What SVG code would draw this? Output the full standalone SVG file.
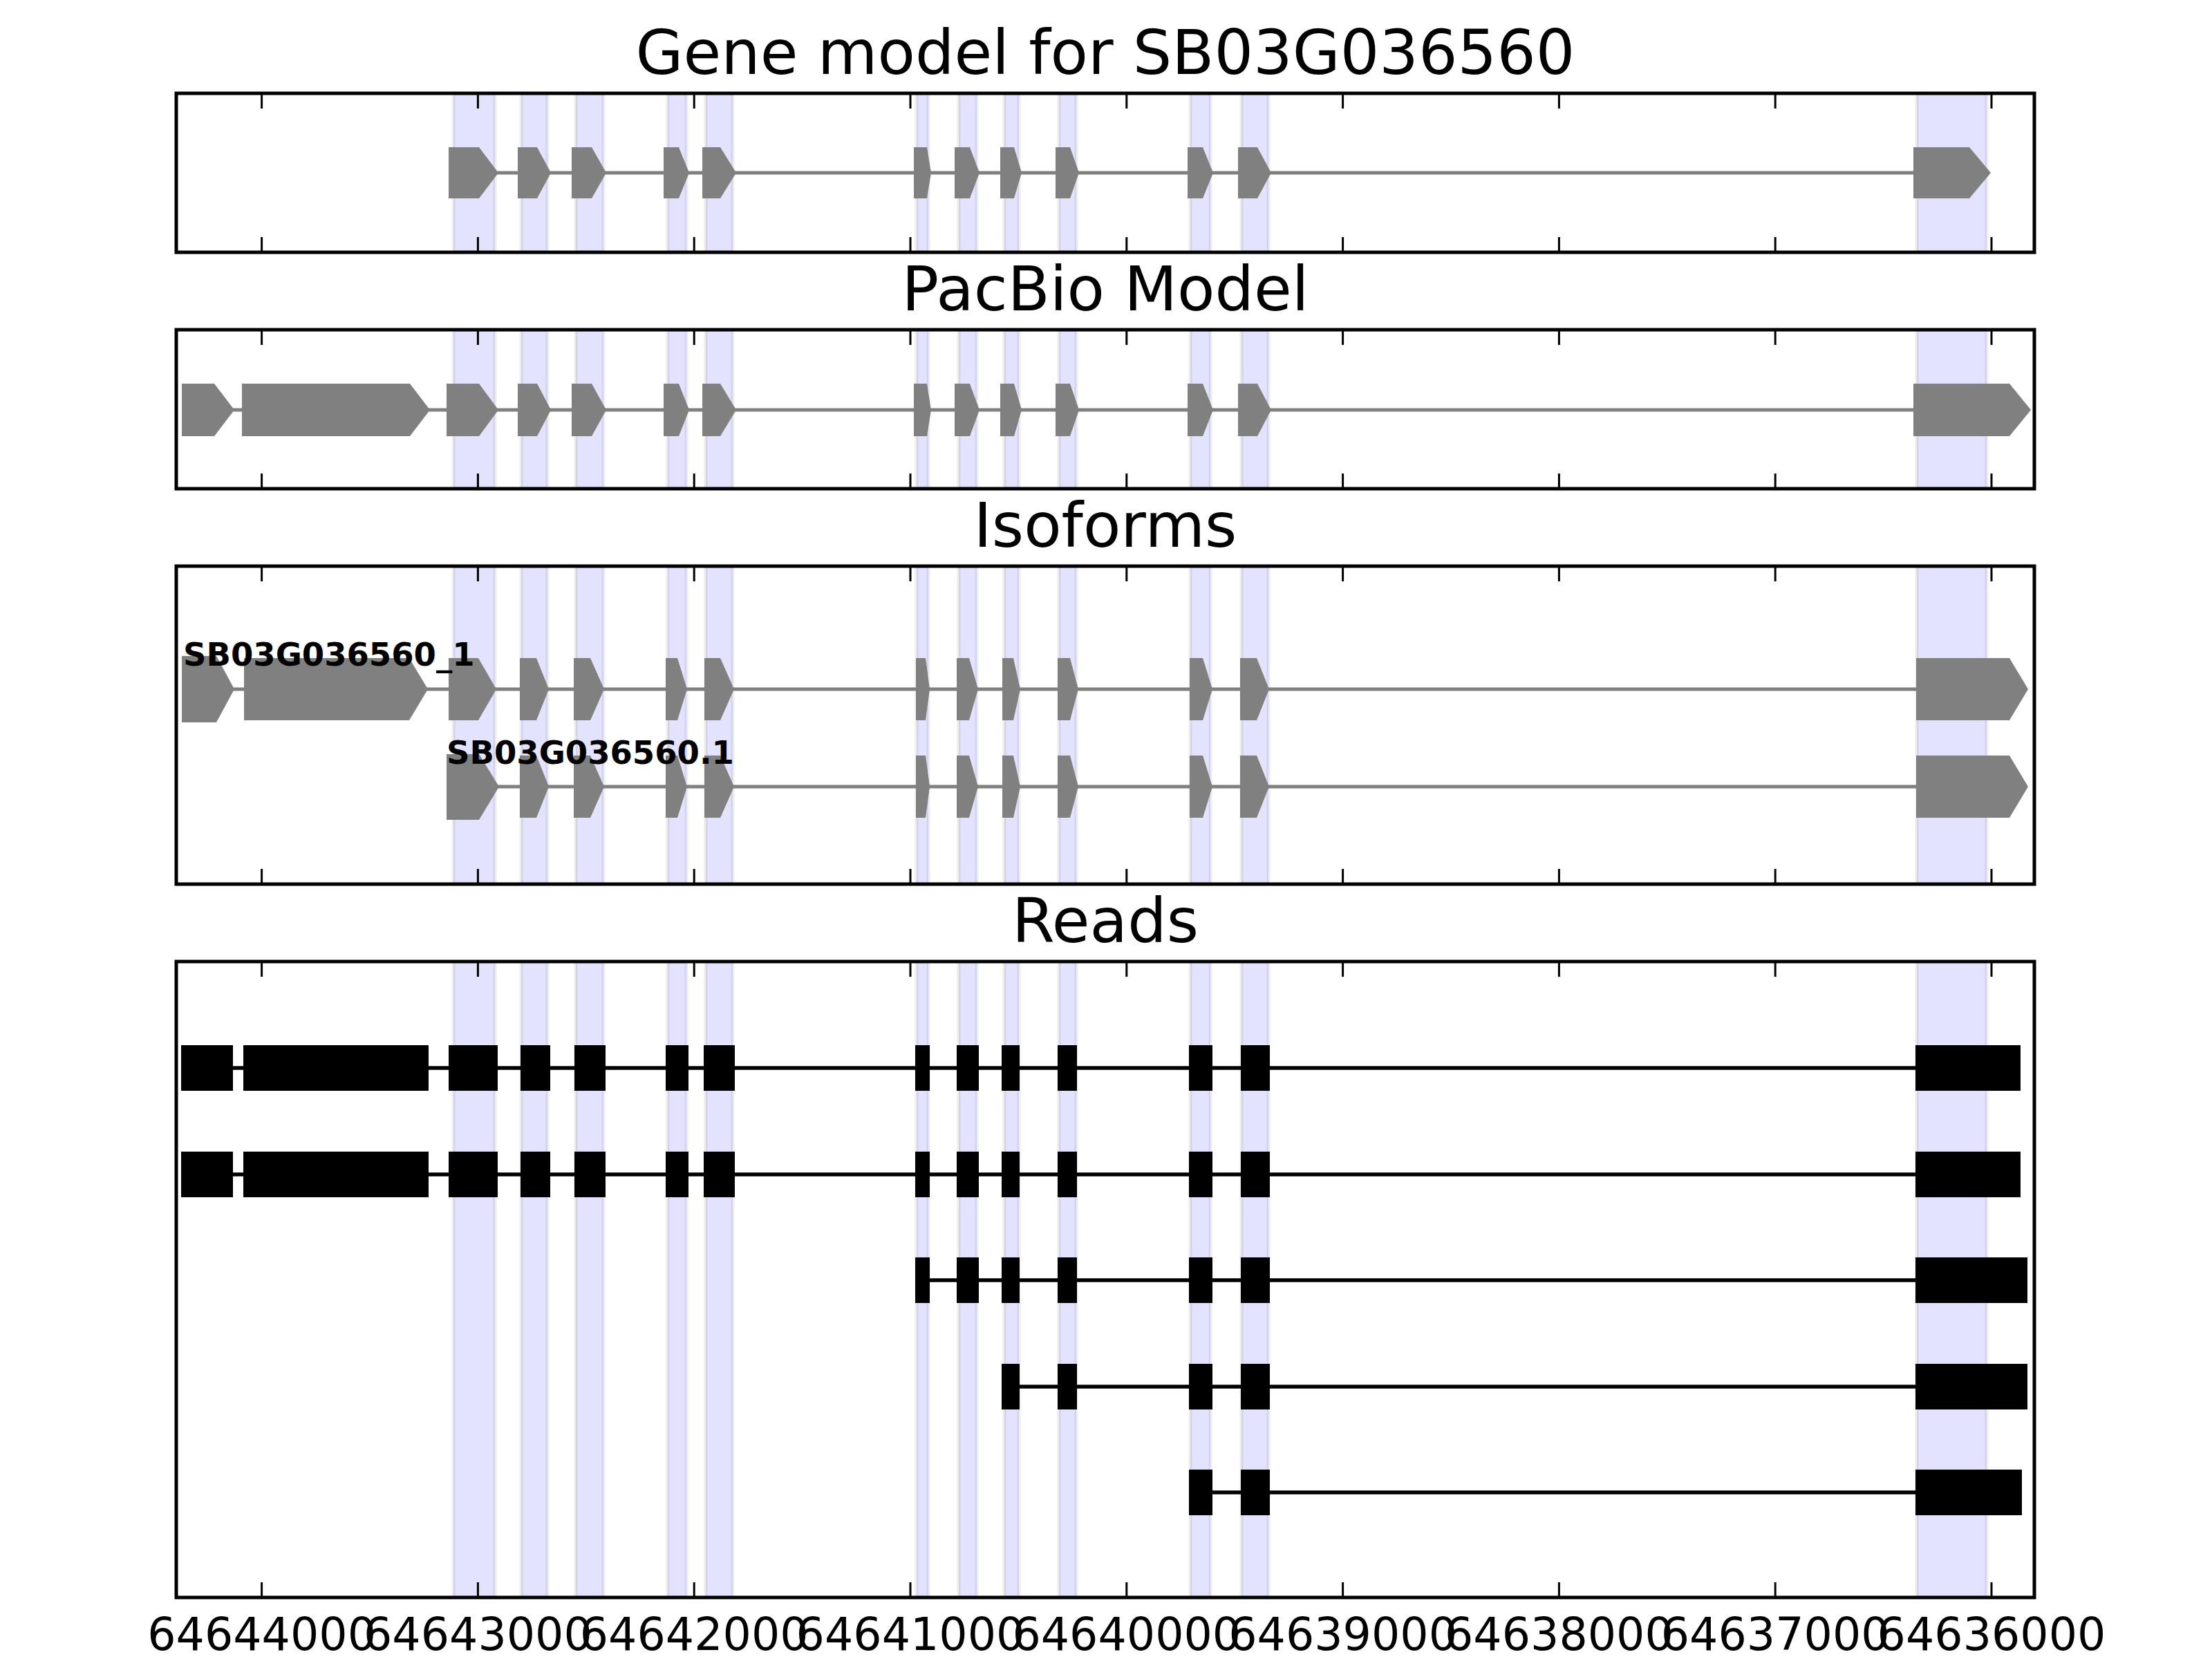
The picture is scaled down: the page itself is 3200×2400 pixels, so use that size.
<svg xmlns="http://www.w3.org/2000/svg" width="3200" height="2400" viewBox="0 0 3200 2400">
<style>
.title{font-family:"DejaVu Sans","Liberation Sans",sans-serif;font-size:89px;fill:#000;text-anchor:middle}
.tick{font-family:"DejaVu Sans","Liberation Sans",sans-serif;font-size:65px;fill:#000;text-anchor:middle}
.lbl{font-family:"DejaVu Sans","Liberation Sans",sans-serif;font-size:46.5px;font-weight:bold;fill:#000}
.frame{fill:none;stroke:#000;stroke-width:5}
.tk{stroke:#000;stroke-width:3}
.band{fill:#0000ff;fill-opacity:0.11;stroke:#000;stroke-opacity:0.07;stroke-width:5}
.ex{fill:#808080}
.intr{stroke:#808080;stroke-width:5}
.rd{fill:#000}
.rl{stroke:#000;stroke-width:5.6}
</style>
<defs>
<clipPath id="c1"><rect x="255" y="135" width="2688" height="230"/></clipPath>
<clipPath id="c2"><rect x="255" y="477" width="2688" height="230"/></clipPath>
<clipPath id="c3"><rect x="255" y="819" width="2688" height="460"/></clipPath>
<clipPath id="c4"><rect x="255" y="1391" width="2688" height="920"/></clipPath>
</defs>
<rect x="0" y="0" width="3200" height="2400" fill="#fff"/>

<g id="bands-p1" clip-path="url(#c1)">
<rect class="band" x="656" y="135" width="60" height="230"/>
<rect class="band" x="754" y="135" width="38" height="230"/>
<rect class="band" x="833" y="135" width="40" height="230"/>
<rect class="band" x="966" y="135" width="27" height="230"/>
<rect class="band" x="1021" y="135" width="39" height="230"/>
<rect class="band" x="1326" y="135" width="17" height="230"/>
<rect class="band" x="1387" y="135" width="26" height="230"/>
<rect class="band" x="1453" y="135" width="21" height="230"/>
<rect class="band" x="1532" y="135" width="25" height="230"/>
<rect class="band" x="1722" y="135" width="29" height="230"/>
<rect class="band" x="1796" y="135" width="39" height="230"/>
<rect class="band" x="2773" y="135" width="101" height="230"/>
</g>
<g id="bands-p2" clip-path="url(#c2)">
<rect class="band" x="656" y="477" width="60" height="230"/>
<rect class="band" x="754" y="477" width="38" height="230"/>
<rect class="band" x="833" y="477" width="40" height="230"/>
<rect class="band" x="966" y="477" width="27" height="230"/>
<rect class="band" x="1021" y="477" width="39" height="230"/>
<rect class="band" x="1326" y="477" width="17" height="230"/>
<rect class="band" x="1387" y="477" width="26" height="230"/>
<rect class="band" x="1453" y="477" width="21" height="230"/>
<rect class="band" x="1532" y="477" width="25" height="230"/>
<rect class="band" x="1722" y="477" width="29" height="230"/>
<rect class="band" x="1796" y="477" width="39" height="230"/>
<rect class="band" x="2773" y="477" width="101" height="230"/>
</g>
<g id="bands-p3" clip-path="url(#c3)">
<rect class="band" x="656" y="819" width="60" height="460"/>
<rect class="band" x="754" y="819" width="38" height="460"/>
<rect class="band" x="833" y="819" width="40" height="460"/>
<rect class="band" x="966" y="819" width="27" height="460"/>
<rect class="band" x="1021" y="819" width="39" height="460"/>
<rect class="band" x="1326" y="819" width="17" height="460"/>
<rect class="band" x="1387" y="819" width="26" height="460"/>
<rect class="band" x="1453" y="819" width="21" height="460"/>
<rect class="band" x="1532" y="819" width="25" height="460"/>
<rect class="band" x="1722" y="819" width="29" height="460"/>
<rect class="band" x="1796" y="819" width="39" height="460"/>
<rect class="band" x="2773" y="819" width="101" height="460"/>
</g>
<g id="bands-p4" clip-path="url(#c4)">
<rect class="band" x="656" y="1391" width="60" height="920"/>
<rect class="band" x="754" y="1391" width="38" height="920"/>
<rect class="band" x="833" y="1391" width="40" height="920"/>
<rect class="band" x="966" y="1391" width="27" height="920"/>
<rect class="band" x="1021" y="1391" width="39" height="920"/>
<rect class="band" x="1326" y="1391" width="17" height="920"/>
<rect class="band" x="1387" y="1391" width="26" height="920"/>
<rect class="band" x="1453" y="1391" width="21" height="920"/>
<rect class="band" x="1532" y="1391" width="25" height="920"/>
<rect class="band" x="1722" y="1391" width="29" height="920"/>
<rect class="band" x="1796" y="1391" width="39" height="920"/>
<rect class="band" x="2773" y="1391" width="101" height="920"/>
</g>

<g id="connectors">
<line class="intr" x1="649" y1="250" x2="2768" y2="250"/>
<line class="intr" x1="263" y1="593" x2="2768" y2="593"/>
<line class="intr" x1="263" y1="997" x2="2772" y2="997"/>
<line class="intr" x1="646" y1="1138" x2="2772" y2="1138"/>
<line class="rl" x1="262" y1="1545" x2="2771" y2="1545"/>
<line class="rl" x1="262" y1="1699" x2="2771" y2="1699"/>
<line class="rl" x1="1324" y1="1852" x2="2771" y2="1852"/>
<line class="rl" x1="1449" y1="2006" x2="2771" y2="2006"/>
<line class="rl" x1="1720" y1="2159" x2="2771" y2="2159"/>
</g>

<g id="gene-model">
<polygon class="ex" points="649,213 693,213 721,250 693,287 649,287"/>
<polygon class="ex" points="749,213 777,213 797,250 777,287 749,287"/>
<polygon class="ex" points="827,213 856,213 877,250 856,287 827,287"/>
<polygon class="ex" points="960,213 982,213 997,250 982,287 960,287"/>
<polygon class="ex" points="1016,213 1042,213 1065,250 1042,287 1016,287"/>
<polygon class="ex" points="1322,213 1341,213 1347,250 1341,287 1322,287"/>
<polygon class="ex" points="1381,213 1403,213 1417,250 1403,287 1381,287"/>
<polygon class="ex" points="1447,213 1467,213 1478,250 1467,287 1447,287"/>
<polygon class="ex" points="1527,213 1548,213 1561,250 1548,287 1527,287"/>
<polygon class="ex" points="1718,213 1740,213 1755,250 1740,287 1718,287"/>
<polygon class="ex" points="1791,213 1819,213 1839,250 1819,287 1791,287"/>
<polygon class="ex" points="2768,213 2849,213 2880,250 2849,287 2768,287"/>
</g>

<g id="pacbio-model">
<polygon class="ex" points="263,555 310,555 339,593 310,631 263,631"/>
<polygon class="ex" points="350,555 593,555 622,593 593,631 350,631"/>
<polygon class="ex" points="646,555 693,555 721,593 693,631 646,631"/>
<polygon class="ex" points="749,555 777,555 797,593 777,631 749,631"/>
<polygon class="ex" points="827,555 856,555 877,593 856,631 827,631"/>
<polygon class="ex" points="960,555 982,555 997,593 982,631 960,631"/>
<polygon class="ex" points="1016,555 1042,555 1065,593 1042,631 1016,631"/>
<polygon class="ex" points="1322,555 1341,555 1347,593 1341,631 1322,631"/>
<polygon class="ex" points="1381,555 1403,555 1417,593 1403,631 1381,631"/>
<polygon class="ex" points="1447,555 1467,555 1478,593 1467,631 1447,631"/>
<polygon class="ex" points="1527,555 1548,555 1561,593 1548,631 1527,631"/>
<polygon class="ex" points="1718,555 1740,555 1755,593 1740,631 1718,631"/>
<polygon class="ex" points="1791,555 1819,555 1839,593 1819,631 1791,631"/>
<polygon class="ex" points="2768,555 2907,555 2938,593 2907,631 2768,631"/>
</g>

<g id="isoform-1">
<polygon class="ex" points="263,949 313,949 339,997 313,1045 263,1045"/>
<polygon class="ex" points="353,952 592,952 619,997 592,1042 353,1042"/>
<polygon class="ex" points="649,952 692,952 718,997 692,1042 649,1042"/>
<polygon class="ex" points="752,952 776,952 794,997 776,1042 752,1042"/>
<polygon class="ex" points="830,952 854,952 874,997 854,1042 830,1042"/>
<polygon class="ex" points="963,952 980,952 994,997 980,1042 963,1042"/>
<polygon class="ex" points="1019,952 1042,952 1062,997 1042,1042 1019,1042"/>
<polygon class="ex" points="1325,952 1339,952 1345,997 1339,1042 1325,1042"/>
<polygon class="ex" points="1384,952 1402,952 1415,997 1402,1042 1384,1042"/>
<polygon class="ex" points="1450,952 1466,952 1476,997 1466,1042 1450,1042"/>
<polygon class="ex" points="1530,952 1548,952 1560,997 1548,1042 1530,1042"/>
<polygon class="ex" points="1721,952 1740,952 1754,997 1740,1042 1721,1042"/>
<polygon class="ex" points="1794,952 1818,952 1836,997 1818,1042 1794,1042"/>
<polygon class="ex" points="2772,952 2907,952 2934,997 2907,1042 2772,1042"/>
<text class="lbl" x="265" y="963">SB03G036560_1</text>
</g>
<g id="isoform-2">
<polygon class="ex" points="646,1091 693,1091 722,1138 693,1186 646,1186"/>
<polygon class="ex" points="752,1093 776,1093 794,1138 776,1183 752,1183"/>
<polygon class="ex" points="830,1093 854,1093 874,1138 854,1183 830,1183"/>
<polygon class="ex" points="963,1093 980,1093 994,1138 980,1183 963,1183"/>
<polygon class="ex" points="1019,1093 1042,1093 1062,1138 1042,1183 1019,1183"/>
<polygon class="ex" points="1325,1093 1339,1093 1345,1138 1339,1183 1325,1183"/>
<polygon class="ex" points="1384,1093 1402,1093 1415,1138 1402,1183 1384,1183"/>
<polygon class="ex" points="1450,1093 1466,1093 1476,1138 1466,1183 1450,1183"/>
<polygon class="ex" points="1530,1093 1548,1093 1560,1138 1548,1183 1530,1183"/>
<polygon class="ex" points="1721,1093 1740,1093 1754,1138 1740,1183 1721,1183"/>
<polygon class="ex" points="1794,1093 1818,1093 1836,1138 1818,1183 1794,1183"/>
<polygon class="ex" points="2772,1093 2907,1093 2934,1138 2907,1183 2772,1183"/>
<text class="lbl" x="646" y="1105">SB03G036560.1</text>
</g>

<g id="read-1">
<rect class="rd" x="262" y="1512" width="75" height="66"/>
<rect class="rd" x="352" y="1512" width="268" height="66"/>
<rect class="rd" x="649" y="1512" width="71" height="66"/>
<rect class="rd" x="753" y="1512" width="43" height="66"/>
<rect class="rd" x="831" y="1512" width="45" height="66"/>
<rect class="rd" x="963" y="1512" width="33" height="66"/>
<rect class="rd" x="1018" y="1512" width="45" height="66"/>
<rect class="rd" x="1324" y="1512" width="21" height="66"/>
<rect class="rd" x="1384" y="1512" width="32" height="66"/>
<rect class="rd" x="1449" y="1512" width="26" height="66"/>
<rect class="rd" x="1530" y="1512" width="28" height="66"/>
<rect class="rd" x="1720" y="1512" width="34" height="66"/>
<rect class="rd" x="1795" y="1512" width="42" height="66"/>
<rect class="rd" x="2771" y="1512" width="152" height="66"/>
</g>
<g id="read-2">
<rect class="rd" x="262" y="1666" width="75" height="66"/>
<rect class="rd" x="352" y="1666" width="268" height="66"/>
<rect class="rd" x="649" y="1666" width="71" height="66"/>
<rect class="rd" x="753" y="1666" width="43" height="66"/>
<rect class="rd" x="831" y="1666" width="45" height="66"/>
<rect class="rd" x="963" y="1666" width="33" height="66"/>
<rect class="rd" x="1018" y="1666" width="45" height="66"/>
<rect class="rd" x="1324" y="1666" width="21" height="66"/>
<rect class="rd" x="1384" y="1666" width="32" height="66"/>
<rect class="rd" x="1449" y="1666" width="26" height="66"/>
<rect class="rd" x="1530" y="1666" width="28" height="66"/>
<rect class="rd" x="1720" y="1666" width="34" height="66"/>
<rect class="rd" x="1795" y="1666" width="42" height="66"/>
<rect class="rd" x="2771" y="1666" width="152" height="66"/>
</g>
<g id="read-3">
<rect class="rd" x="1324" y="1819" width="21" height="66"/>
<rect class="rd" x="1384" y="1819" width="32" height="66"/>
<rect class="rd" x="1449" y="1819" width="26" height="66"/>
<rect class="rd" x="1530" y="1819" width="28" height="66"/>
<rect class="rd" x="1720" y="1819" width="34" height="66"/>
<rect class="rd" x="1795" y="1819" width="42" height="66"/>
<rect class="rd" x="2771" y="1819" width="162" height="66"/>
</g>
<g id="read-4">
<rect class="rd" x="1449" y="1973" width="26" height="66"/>
<rect class="rd" x="1530" y="1973" width="28" height="66"/>
<rect class="rd" x="1720" y="1973" width="34" height="66"/>
<rect class="rd" x="1795" y="1973" width="42" height="66"/>
<rect class="rd" x="2771" y="1973" width="162" height="66"/>
</g>
<g id="read-5">
<rect class="rd" x="1720" y="2126" width="34" height="66"/>
<rect class="rd" x="1795" y="2126" width="42" height="66"/>
<rect class="rd" x="2771" y="2126" width="154" height="66"/>
</g>

<g id="axes">
<rect class="frame" x="255" y="135" width="2688" height="230"/>
<rect class="frame" x="255" y="477" width="2688" height="230"/>
<rect class="frame" x="255" y="819" width="2688" height="460"/>
<rect class="frame" x="255" y="1391" width="2688" height="920"/>
<path class="tk" d="M378.6,137v20M691.4,137v20M1004.2,137v20M1317,137v20M1629.8,137v20M1942.6,137v20M2255.4,137v20M2568.2,137v20M2881,137v20
M378.6,363v-20M691.4,363v-20M1004.2,363v-20M1317,363v-20M1629.8,363v-20M1942.6,363v-20M2255.4,363v-20M2568.2,363v-20M2881,363v-20"/>
<path class="tk" d="M378.6,479v20M691.4,479v20M1004.2,479v20M1317,479v20M1629.8,479v20M1942.6,479v20M2255.4,479v20M2568.2,479v20M2881,479v20
M378.6,705v-20M691.4,705v-20M1004.2,705v-20M1317,705v-20M1629.8,705v-20M1942.6,705v-20M2255.4,705v-20M2568.2,705v-20M2881,705v-20"/>
<path class="tk" d="M378.6,821v20M691.4,821v20M1004.2,821v20M1317,821v20M1629.8,821v20M1942.6,821v20M2255.4,821v20M2568.2,821v20M2881,821v20
M378.6,1277v-20M691.4,1277v-20M1004.2,1277v-20M1317,1277v-20M1629.8,1277v-20M1942.6,1277v-20M2255.4,1277v-20M2568.2,1277v-20M2881,1277v-20"/>
<path class="tk" d="M378.6,1393v20M691.4,1393v20M1004.2,1393v20M1317,1393v20M1629.8,1393v20M1942.6,1393v20M2255.4,1393v20M2568.2,1393v20M2881,1393v20
M378.6,2309v-20M691.4,2309v-20M1004.2,2309v-20M1317,2309v-20M1629.8,2309v-20M1942.6,2309v-20M2255.4,2309v-20M2568.2,2309v-20M2881,2309v-20"/>
</g>

<g id="titles">
<text class="title" x="1599" y="107">Gene model for SB03G036560</text>
<text class="title" x="1599" y="449">PacBio Model</text>
<text class="title" x="1599" y="791">Isoforms</text>
<text class="title" x="1599" y="1363">Reads</text>
</g>

<g id="tick-labels">
<text class="tick" x="378.6" y="2387">64644000</text>
<text class="tick" x="691.4" y="2387">64643000</text>
<text class="tick" x="1004.2" y="2387">64642000</text>
<text class="tick" x="1317" y="2387">64641000</text>
<text class="tick" x="1629.8" y="2387">64640000</text>
<text class="tick" x="1942.6" y="2387">64639000</text>
<text class="tick" x="2255.4" y="2387">64638000</text>
<text class="tick" x="2568.2" y="2387">64637000</text>
<text class="tick" x="2881" y="2387">64636000</text>
</g>
</svg>
